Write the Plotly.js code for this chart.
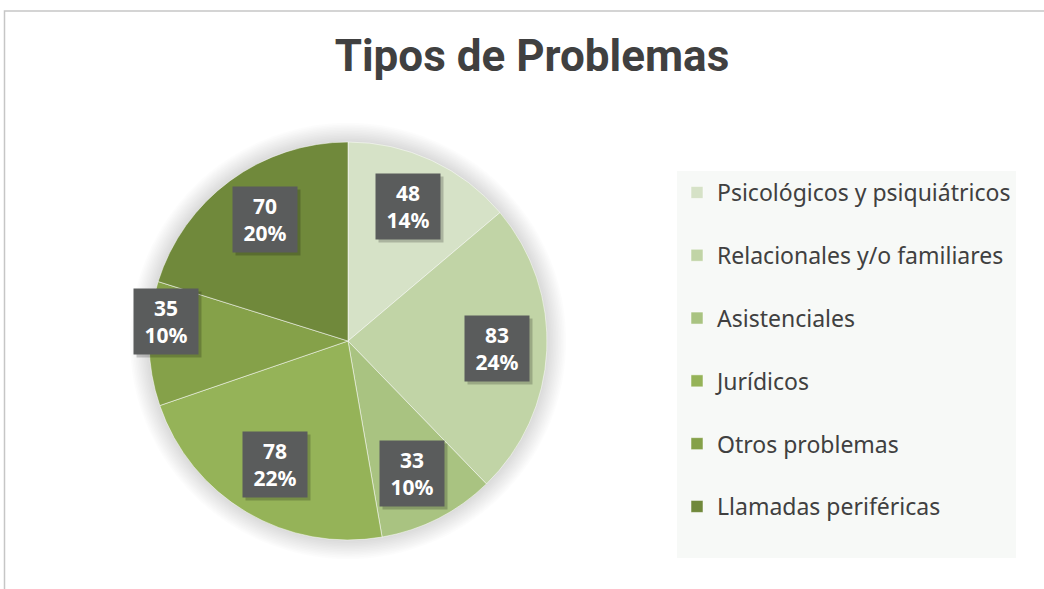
<!DOCTYPE html>
<html>
<head>
<meta charset="utf-8">
<script src="https://cdn.plot.ly/plotly-3.0.1.min.js"></script>
<style>
  html, body { margin: 0; padding: 0; background: #ffffff; }
  #chart { width: 1044px; height: 589px; }
</style>
</head>
<body>
<div id="chart"></div>
<script>
// ---- data ----
const categories = [
  "Psicológicos y psiquiátricos",
  "Relacionales y/o familiares",
  "Asistenciales",
  "Jurídicos",
  "Otros problemas",
  "Llamadas periféricas"
];
const values = [48, 83, 33, 78, 35, 70];
const percentLabels = ["14%", "24%", "10%", "22%", "10%", "20%"];

// ---- style ----
const sliceColors = ["#d6e2c7", "#c1d4a6", "#a9c381", "#95b358", "#85a149", "#70893b"];
const labelRadius = [0.74, 0.75, 0.74, 0.72, 0.92, 0.74];
const labelAngleShift = [-1, 0, 1, 0, 7, 2]; // degrees

const W = 1044, H = 589;
const cx = 348, cy = 341, R = 199;

const domainX = [(cx - R) / W, (cx + R) / W];
const domainY = [(H - cy - R) / H, (H - cy + R) / H];

const trace = {
  type: "pie",
  labels: categories.map(c => c + "<br> "),
  values: values,
  sort: false,
  direction: "clockwise",
  rotation: 0,
  textinfo: "none",
  hoverinfo: "label+value+percent",
  marker: { colors: sliceColors, line: { color: "rgba(255,255,255,0.5)", width: 1 } },
  domain: { x: domainX, y: domainY },
  showlegend: true
};

// label annotations positioned from the data (slice mid-angles)
const total = values.reduce((a, b) => a + b, 0);
const annotations = [];
let cum = 0;
values.forEach((v, i) => {
  const mid = (cum + v / 2) / total * 2 * Math.PI + labelAngleShift[i] * Math.PI / 180;
  cum += v;
  const r = R * labelRadius[i];
  const px = cx + r * Math.sin(mid);
  const py = cy - r * Math.cos(mid);
  const base = {
    xref: "paper", yref: "paper",
    x: px / W, y: (H - py) / H,
    xanchor: "center", yanchor: "middle",
    showarrow: false,
    width: 62, height: 63,
    align: "center", valign: "middle"
  };
  // shadow
  annotations.push(Object.assign({}, base, {
    text: " ", bgcolor: "rgba(0,0,0,0.2)", xshift: 3, yshift: -3
  }));
  annotations.push(Object.assign({}, base, {
    text: "<b>" + v + "</b><br><b>" + percentLabels[i] + "</b>",
    bgcolor: "#5a5c5c",
    font: { family: "Noto Sans, Open Sans, sans-serif", size: 21, color: "#ffffff" }
  }));
});

// soft glow behind the pie
const shapes = [];
for (let k = 1; k <= 12; k++) {
  const rr = R + k * 1.6;
  shapes.push({
    type: "circle", xref: "paper", yref: "paper", layer: "below",
    x0: (cx - rr) / W, x1: (cx + rr) / W,
    y0: (H - cy - rr) / H, y1: (H - cy + rr) / H,
    fillcolor: "rgba(0,0,0,0.011)", line: { width: 0 }
  });
}
// chart frame
shapes.push({
  type: "rect", xref: "paper", yref: "paper", layer: "below",
  x0: 4.5 / W, x1: 1.02, y0: -0.02, y1: (H - 11) / H,
  line: { color: "#c6c6c6", width: 1.5 }, fillcolor: "rgba(0,0,0,0)"
});

const layout = {
  width: W, height: H,
  margin: { l: 0, r: 0, t: 0, b: 0 },
  paper_bgcolor: "#ffffff",
  title: {
    text: "<b>Tipos de Problemas</b>",
    x: 532 / W, xanchor: "center",
    y: (H - 56) / H, yanchor: "middle",
    font: { family: "Roboto, sans-serif", size: 44, color: "#404040" }
  },
  legend: {
    x: 677 / W, xanchor: "left",
    y: (H - 171) / H, yanchor: "top",
    bgcolor: "#f7f9f7",
    valign: "top",
    font: { family: "Noto Sans, Open Sans, sans-serif", size: 23, color: "#404040" },
    traceorder: "normal"
  },
  annotations: annotations,
  shapes: shapes
};

Plotly.newPlot("chart", [trace], layout, { displayModeBar: false, staticPlot: true });
</script>
</body>
</html>
